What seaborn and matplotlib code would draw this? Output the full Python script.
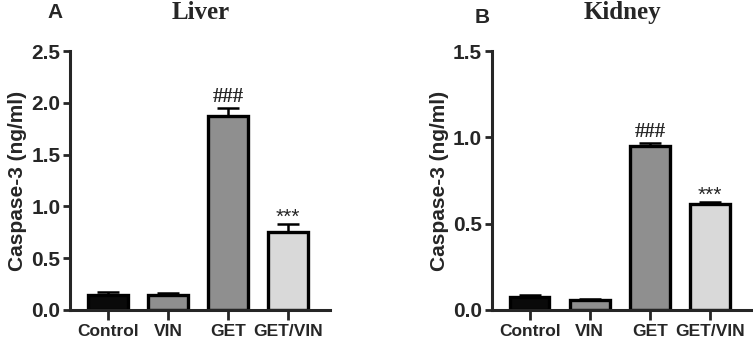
import pandas as pd
import seaborn as sns
import matplotlib.pyplot as plt

# group names and readings (ng/ml)
groups = ["Control", "VIN", "GET", "GET/VIN"]
liver_mean = [0.14, 0.14, 1.87, 0.75]
liver_err = [0.03, 0.025, 0.08, 0.08]
kidney_mean = [0.077, 0.058, 0.953, 0.614]
kidney_err = [0.01, 0.006, 0.012, 0.01]
liver_marks = ["", "", "###", "***"]
kidney_marks = ["", "", "###", "***"]

bar_colors = ["#0a0a0a", "#8f8f8f", "#8f8f8f", "#d9d9d9"]

sns.set_style("ticks")
plt.rcParams["font.family"] = ["Liberation Sans", "DejaVu Sans"]
plt.rcParams["font.weight"] = "bold"

fig = plt.figure(figsize=(7.53, 3.41), dpi=100)
ax1 = fig.add_axes([0.093, 0.091, 0.345, 0.759])
ax2 = fig.add_axes([0.653, 0.091, 0.346, 0.759])


def draw_panel(ax, means, errs, marks, ymax, step):
    df = pd.DataFrame({"group": groups, "value": means})
    sns.barplot(data=df, x="group", y="value", hue="group", palette=bar_colors,
                width=0.66, edgecolor="black", linewidth=2.4, legend=False,
                errorbar=None, ax=ax)
    # upper-only error bars
    ax.errorbar(range(len(groups)), means, yerr=[[0] * len(groups), errs],
                fmt="none", ecolor="black", elinewidth=1.8, capsize=8,
                capthick=1.8, zorder=1)
    for i, m in enumerate(marks):
        if m == "###":
            ax.text(i, means[i] + errs[i] + ymax * 0.005, m, ha="center", va="bottom",
                    fontsize=15, fontweight="bold", family="Liberation Serif")
        elif m:
            ax.text(i, means[i] + errs[i] - ymax * 0.01, m, ha="center", va="bottom",
                    fontsize=15, fontweight="normal")
    ax.set_xlim(-0.63, 3.7)
    ax.set_ylim(0, ymax)
    ticks = [round(k * step, 2) for k in range(int(round(ymax / step)) + 1)]
    ax.set_yticks(ticks)
    ax.set_yticklabels([f"{t:.1f}" for t in ticks])
    ax.set_xlabel("")
    ax.set_ylabel("Caspase-3 (ng/ml)", fontsize=15, fontweight="bold", labelpad=3)
    sns.despine(ax=ax)
    for s in ["left", "bottom"]:
        ax.spines[s].set_linewidth(2.2)
    ax.tick_params(axis="y", length=5, width=2, labelsize=15, pad=2)
    ax.tick_params(axis="x", length=7, width=2, labelsize=12.5, pad=3)
    for lab in ax.get_xticklabels() + ax.get_yticklabels():
        lab.set_fontweight("bold")


draw_panel(ax1, liver_mean, liver_err, liver_marks, 2.5, 0.5)
draw_panel(ax2, kidney_mean, kidney_err, kidney_marks, 1.5, 0.5)

fig.text(0.073, 0.963, "A", fontsize=15, fontweight="bold", ha="center", va="center")
fig.text(0.266, 0.963, "Liver", fontsize=18, fontweight="bold", ha="center",
         va="center", family="Liberation Serif")
fig.text(0.641, 0.948, "B", fontsize=15, fontweight="bold", ha="center", va="center")
fig.text(0.826, 0.963, "Kidney", fontsize=18, fontweight="bold", ha="center",
         va="center", family="Liberation Serif")

fig.savefig("out.png", dpi=100)
